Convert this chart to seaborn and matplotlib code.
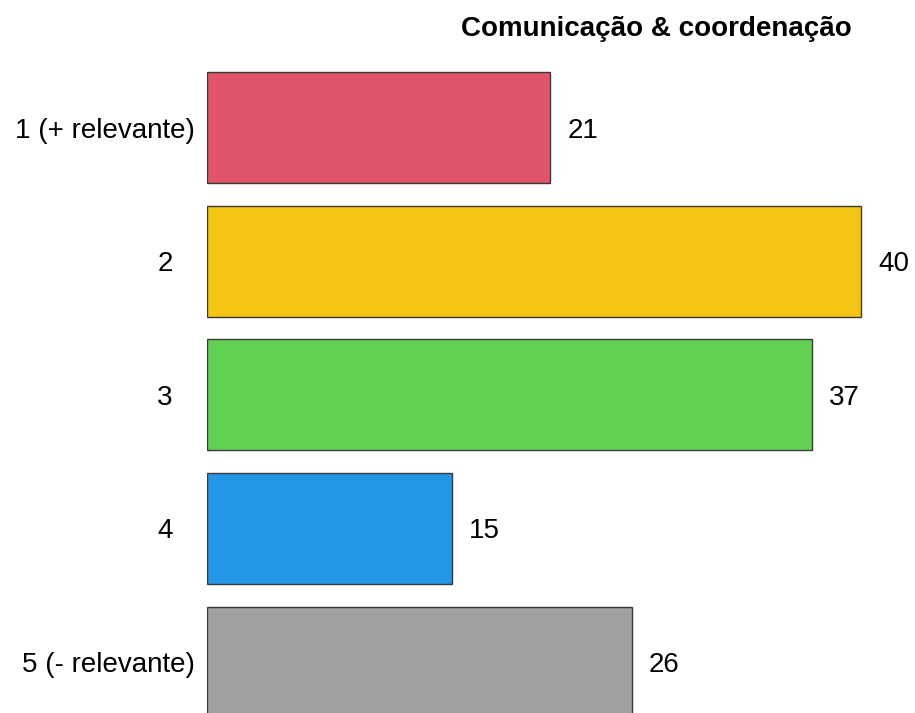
import matplotlib
matplotlib.use("Agg")
import matplotlib.pyplot as plt
import pandas as pd
import seaborn as sns

# Data
categories = ["1 (+ relevante)", "2", "3", "4", "5 (- relevante)"]
counts = [21, 40, 37, 15, 26]
colors = ["#E0556A", "#F4C515", "#62D153", "#2396E6", "#A0A0A0"]
title = "Comunicação & coordenação"

df = pd.DataFrame({"rank": categories, "count": counts})

sns.set_style("white")
plt.rcParams["font.family"] = ["Liberation Sans", "DejaVu Sans"]

fig = plt.figure(figsize=(9.15, 7.13), dpi=100)
W, H = 915, 713
# axes: left at x=207px, right edge of figure, top ~61px, bottom at figure bottom
ax = fig.add_axes([207 / W, 0, (W - 207) / W, (H - 60.7) / H])

sns.barplot(data=df, y="rank", x="count", hue="rank", palette=colors,
            order=categories, orient="h", width=0.83, dodge=False,
            saturation=1, edgecolor="#3a3a3a", linewidth=1.0,
            legend=False, ax=ax)

ax.set_xlim(0, (W - 207) / 16.35)
ax.set_ylim(4.382, -0.5)
ax.set_axis_off()

# value labels
for i, v in enumerate(counts):
    ax.annotate(str(v), xy=(v, i), xytext=(17, -3), textcoords="offset pixels",
                ha="left", va="center", fontsize=20, color="black")

# category labels
for i, cat in enumerate(categories):
    if len(cat) > 2:
        ax.annotate(cat, xy=(0, i), xycoords=("axes fraction", "data"),
                    xytext=(-12, -3), textcoords="offset pixels",
                    ha="right", va="center", fontsize=20, color="black")
    else:
        ax.annotate(cat, xy=(0, i), xycoords=("axes fraction", "data"),
                    xytext=(-42, -3), textcoords="offset pixels",
                    ha="center", va="center", fontsize=20, color="black")

fig.text(656 / W, 1 - 29 / H, title, ha="center", va="center",
         fontsize=20, fontweight="bold", color="black")

fig.savefig("out.png", dpi=100)
